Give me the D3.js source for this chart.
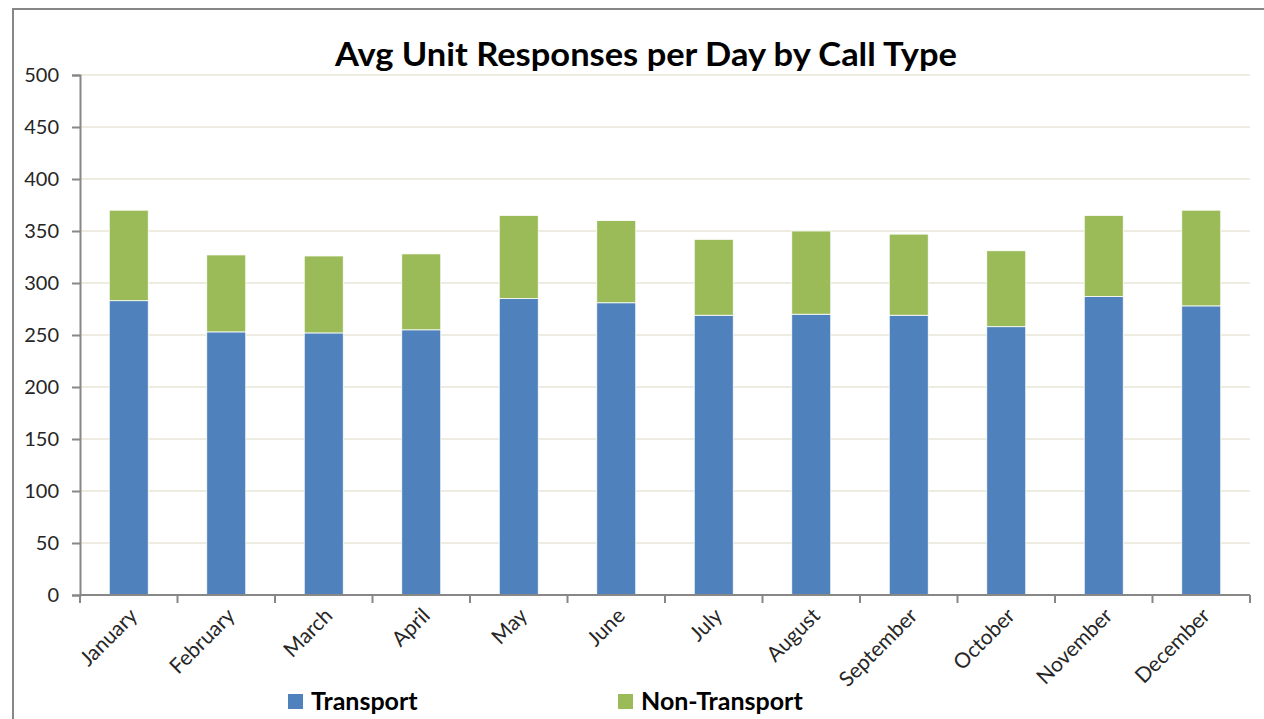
<!DOCTYPE html>
<html lang="en">
<head>
  <meta charset="UTF-8">
  <title>Avg Unit Responses per Day by Call Type</title>
  <style>
    body { margin: 0; background: #fff; font-family: Lato, "Open Sans", sans-serif; }
    .tick text { fill: #262626; }
  </style>
</head>
<body>
  <div id="chart"></div>
  <script src="https://d3js.org/d3.v7.min.js"></script>
  <script>
    const months = ["January", "February", "March", "April", "May", "June",
      "July", "August", "September", "October", "November", "December"];
    const transport = [283, 253, 252, 255, 285, 281, 269, 270, 269, 258, 287, 278];
    const nonTransport = [87, 74, 74, 73, 80, 79, 73, 80, 78, 73, 78, 92];
    const yTicks = [0, 50, 100, 150, 200, 250, 300, 350, 400, 450, 500];
    const seriesNames = ["Transport", "Non-Transport"];
    const colors = ["#4f81bd", "#9bbb59"];

    const width = 1264, height = 719;
    const margin = { left: 80, right: 14, top: 75, bottom: 124 };

    const svg = d3.select("#chart").append("svg")
      .attr("width", width)
      .attr("height", height);

    // outer frame (cut off on the right and bottom)
    svg.append("rect")
      .attr("x", 13).attr("y", 9)
      .attr("width", width + 20).attr("height", height + 20)
      .attr("fill", "none")
      .attr("stroke", "#878787")
      .attr("stroke-width", 2);

    const x = d3.scaleBand()
      .domain(months)
      .range([margin.left, width - margin.right])
      .paddingInner(0.6)
      .paddingOuter(0.3);

    const y = d3.scaleLinear()
      .domain([0, 500])
      .range([height - margin.bottom, margin.top]);

    // gridlines
    svg.append("g")
      .selectAll("line")
      .data(yTicks.filter(d => d > 0))
      .enter().append("line")
      .attr("x1", margin.left)
      .attr("x2", width - margin.right)
      .attr("y1", d => y(d))
      .attr("y2", d => y(d))
      .attr("stroke", "#eeece1")
      .attr("stroke-width", 2);

    const rows = months.map((m, i) => ({ month: m, Transport: transport[i], "Non-Transport": nonTransport[i] }));
    const stacked = d3.stack().keys(seriesNames)(rows);

    svg.append("g")
      .selectAll("g")
      .data(stacked)
      .enter().append("g")
      .attr("fill", (d, i) => colors[i])
      .selectAll("rect")
      .data(d => d)
      .enter().append("rect")
      .attr("x", d => x(d.data.month))
      .attr("width", x.bandwidth())
      .attr("y", d => y(d[1]))
      .attr("height", d => y(d[0]) - y(d[1]))
      .attr("stroke", "#fff")
      .attr("stroke-width", 0.8);

    // y axis
    const yAxis = svg.append("g")
      .attr("transform", `translate(${margin.left},0)`)
      .call(d3.axisLeft(y).tickValues(yTicks).tickSize(8).tickPadding(13));
    yAxis.selectAll("text").style("font-size", "20px").style("font-family", "Lato, sans-serif");
    yAxis.selectAll("line, path").attr("stroke", "#878787").attr("stroke-width", 2);

    // x axis with ticks at category boundaries
    const start = x.range()[0];
    const boundaries = d3.range(months.length + 1).map(i => start + i * (width - margin.right - start) / months.length);
    const xg = svg.append("g").attr("transform", `translate(0,${y(0)})`);
    xg.append("line")
      .attr("x1", margin.left).attr("x2", width - margin.right)
      .attr("stroke", "#878787").attr("stroke-width", 2);
    xg.selectAll(".bt")
      .data(boundaries)
      .enter().append("line")
      .attr("x1", d => d).attr("x2", d => d)
      .attr("y1", 0).attr("y2", 8)
      .attr("stroke", "#878787").attr("stroke-width", 2);
    xg.selectAll("text")
      .data(months)
      .enter().append("text")
      .attr("transform", d => `translate(${x(d) + x.bandwidth() / 2 + 10},${22}) rotate(-45)`)
      .attr("text-anchor", "end")
      .attr("fill", "#262626")
      .style("font-size", "21px")
      .text(d => d);

    // title
    svg.append("text")
      .attr("x", 646).attr("y", 66)
      .attr("text-anchor", "middle")
      .attr("textLength", 622)
      .attr("lengthAdjust", "spacingAndGlyphs")
      .style("font-size", "32px")
      .style("font-weight", "bold")
      .attr("fill", "#000")
      .text("Avg Unit Responses per Day by Call Type");

    // legend
    const legendX = [288, 618];
    const legend = svg.append("g").selectAll("g")
      .data(seriesNames)
      .enter().append("g")
      .attr("transform", (d, i) => `translate(${legendX[i]},694)`);
    legend.append("rect")
      .attr("width", 15).attr("height", 15)
      .attr("fill", (d, i) => colors[i]);
    legend.append("text")
      .attr("x", 23).attr("y", 16)
      .style("font-size", "25px")
      .style("font-weight", "bold")
      .attr("fill", "#000")
      .text(d => d);
  </script>
</body>
</html>
